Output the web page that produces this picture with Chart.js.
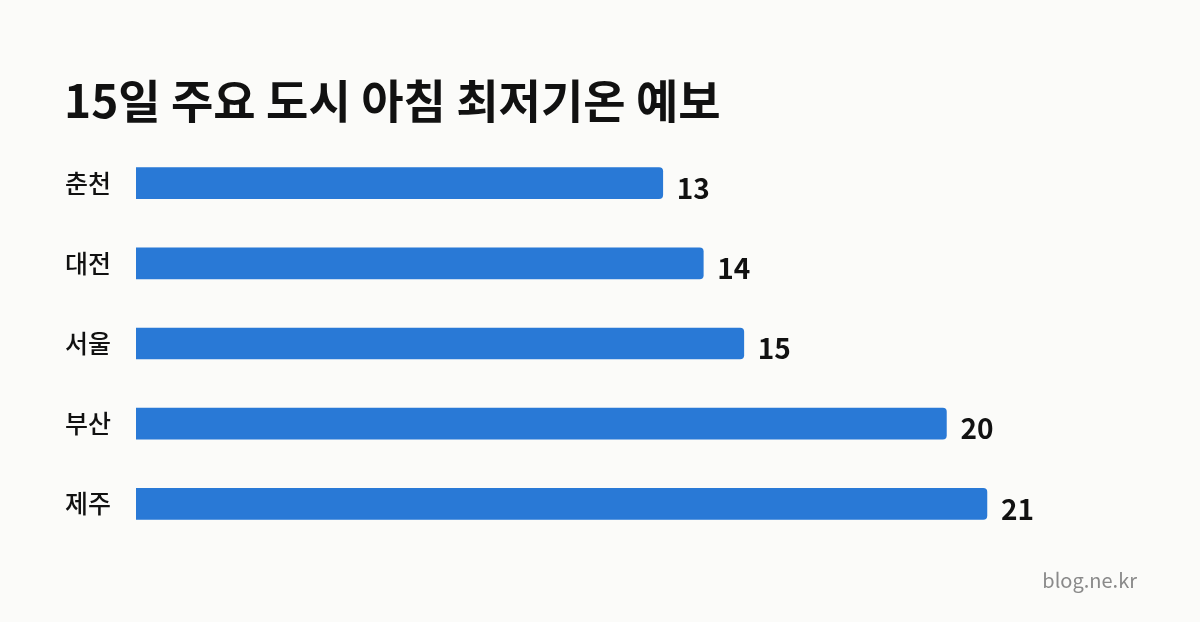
<!DOCTYPE html>
<html lang="ko">
<head>
<meta charset="utf-8">
<script src="https://cdn.jsdelivr.net/npm/chart.js@4"></script>
<style>
  html, body { margin: 0; padding: 0; background: #fbfbf9; }
  #wrap { width: 1200px; height: 622px; position: relative; }
</style>
</head>
<body>
<div id="wrap"><canvas id="tempChart" width="1200" height="622"></canvas></div>
<script>
// 15일 도시별 아침 최저기온 (°C)
const cities = ["춘천", "대전", "서울", "부산", "제주"];
const lowTemps = [13, 14, 15, 20, 21];
const chartTitle = "15일 주요 도시 아침 최저기온 예보";
const sourceText = "blog.ne.kr";

const FONT = "'Noto Sans CJK KR', 'Noto Sans', sans-serif";

// title + watermark + value labels
const overlayPlugin = {
    id: "overlay",
    beforeDraw(chart) {
        const ctx = chart.ctx;
        ctx.save();
        ctx.fillStyle = "#fbfbf9";
        ctx.fillRect(0, 0, chart.width, chart.height);
        ctx.restore();
    },
    afterDatasetsDraw(chart) {
        const ctx = chart.ctx;
        ctx.save();
        ctx.fillStyle = "#111111";
        ctx.font = "bold 46px " + FONT;
        ctx.textBaseline = "middle";
        ctx.textAlign = "left";
        ctx.fillText(chartTitle, 64, 101);

        const meta = chart.getDatasetMeta(0);
        ctx.font = "bold 28px " + FONT;
        meta.data.forEach((bar, i) => {
            ctx.fillText(lowTemps[i], bar.x + 14, bar.y + 5);
        });

        ctx.fillStyle = "#8a8a8a";
        ctx.font = "20px " + FONT;
        ctx.textAlign = "right";
        ctx.fillText(sourceText, 1137, 580);
        ctx.restore();
    }
};

const ctx = document.getElementById("tempChart").getContext("2d");
new Chart(ctx, {
    type: "bar",
    data: {
        labels: cities,
        datasets: [{
            label: "최저기온",
            data: lowTemps,
            backgroundColor: "#2979d6",
            barThickness: 31,
            borderRadius: { topRight: 4, bottomRight: 4 },
            borderSkipped: "start"
        }]
    },
    options: {
        indexAxis: "y",
        responsive: false,
        animation: false,
        layout: { padding: { left: 60, right: 51, top: 143, bottom: 78 } },
        plugins: {
            legend: { display: false },
            tooltip: { enabled: false }
        },
        scales: {
            x: {
                display: false,
                min: 0,
                max: 25
            },
            y: {
                grid: { display: false, drawTicks: false },
                border: { display: false },
                afterFit: (s) => { s.width = 76; },
                ticks: {
                    color: "#111111",
                    padding: 25,
                    font: { family: FONT, size: 25, weight: "500" }
                }
            }
        }
    },
    plugins: [overlayPlugin]
});
</script>
</body>
</html>
